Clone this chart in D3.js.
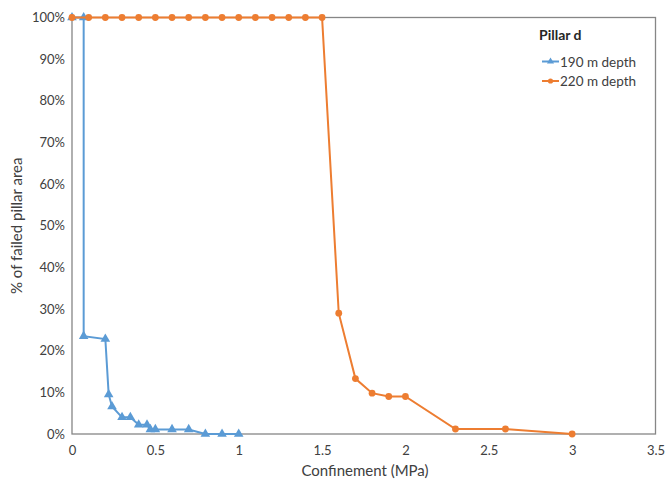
<!DOCTYPE html>
<html>
<head>
<meta charset="utf-8">
<script src="https://cdn.jsdelivr.net/npm/d3@7"></script>
<style>
  body { margin: 0; background: #fff; }
  svg { display: block; font-family: Lato, "Open Sans", sans-serif; }
</style>
</head>
<body>
<svg id="chart" width="665" height="481"></svg>
<script>
// Confinement (MPa) vs. failed pillar area (%), pillar d
const depth190X = [0, 0.07, 0.07, 0.2, 0.22, 0.24, 0.3, 0.35, 0.4, 0.45, 0.47, 0.5, 0.6, 0.7, 0.8, 0.9, 1.0];
const depth190Y = [100, 100, 23.5, 22.8, 9.5, 6.6, 4.0, 4.0, 2.2, 2.2, 1.1, 1.1, 1.1, 1.1, 0, 0, 0];

const depth220X = [0, 0.1, 0.2, 0.3, 0.4, 0.5, 0.6, 0.7, 0.8, 0.9, 1.0, 1.1, 1.2, 1.3, 1.4, 1.5,
                   1.6, 1.7, 1.8, 1.9, 2.0, 2.3, 2.6, 3.0];
const depth220Y = [100, 100, 100, 100, 100, 100, 100, 100, 100, 100, 100, 100, 100, 100, 100, 100,
                   29, 13.3, 9.8, 9.0, 9.0, 1.2, 1.2, 0];

const xTicks = [0, 0.5, 1, 1.5, 2, 2.5, 3, 3.5];
const yTicks = [0, 10, 20, 30, 40, 50, 60, 70, 80, 90, 100];
const seriesNames = ["190 m depth", "220 m depth"];
const legendTitle = "Pillar d";

const blue = "#5b9bd5", orange = "#ed7d31", textCol = "#404040", axisCol = "#868686";

const svg = d3.select("#chart");
const plotL = 72, plotR = 655.5, plotT = 17.5, plotB = 434;

const x = d3.scaleLinear().domain([0, 3.5]).range([plotL, plotR]);
const y = d3.scaleLinear().domain([0, 100]).range([plotB, plotT]);

// plot area frame
svg.append("rect")
  .attr("x", plotL).attr("y", plotT)
  .attr("width", plotR - plotL).attr("height", plotB - plotT)
  .attr("fill", "none").attr("stroke", axisCol).attr("stroke-width", 1.3);

// axes (labels only; frame draws the lines)
const xAxis = svg.append("g").attr("transform", `translate(0,${plotB})`)
  .call(d3.axisBottom(x).tickValues(xTicks).tickSize(0).tickPadding(12)
    .tickFormat(d => String(d)));
xAxis.select(".domain").remove();
xAxis.selectAll("text").attr("fill", textCol).style("font-size", "13px")
  .style("font-family", "Lato, 'Open Sans', sans-serif");

const yAxis = svg.append("g").attr("transform", `translate(${plotL},0)`)
  .call(d3.axisLeft(y).tickValues(yTicks).tickSize(0).tickPadding(7)
    .tickFormat(d => d + "%"));
yAxis.select(".domain").remove();
yAxis.selectAll("text").attr("fill", textCol).style("font-size", "13px")
  .style("font-family", "Lato, 'Open Sans', sans-serif");

// axis titles
svg.append("text")
  .attr("x", 365).attr("y", 476)
  .attr("text-anchor", "middle").attr("fill", textCol)
  .style("font-size", "15px")
  .text("Confinement (MPa)");

svg.append("text")
  .attr("transform", `translate(22,${(plotT + plotB) / 2}) rotate(-90)`)
  .attr("text-anchor", "middle").attr("fill", textCol)
  .style("font-size", "15px")
  .text("% of failed pillar area");

const line = d3.line().x(d => x(d[0])).y(d => y(d[1]));
const tri = d3.symbol().type(d3.symbolTriangle).size(40);

function drawSeries(xs, ys, color, marker) {
  const pts = xs.map((v, i) => [v, ys[i]]);
  const g = svg.append("g");
  g.append("path").datum(pts).attr("d", line)
    .attr("fill", "none").attr("stroke", color).attr("stroke-width", 2);
  if (marker === "tri") {
    g.selectAll("path.m").data(pts).enter().append("path").attr("class", "m")
      .attr("d", tri).attr("transform", d => `translate(${x(d[0])},${y(d[1])})`)
      .attr("fill", color);
  } else {
    g.selectAll("circle").data(pts).enter().append("circle")
      .attr("cx", d => x(d[0])).attr("cy", d => y(d[1])).attr("r", 3.4)
      .attr("fill", color);
  }
}

drawSeries(depth190X, depth190Y, blue, "tri");
drawSeries(depth220X, depth220Y, orange, "dot");

// legend
const lg = svg.append("g").attr("transform", "translate(539,0)");
lg.append("text").attr("x", 0).attr("y", 40)
  .attr("fill", "#262626").style("font-size", "14px").style("font-weight", "bold")
  .text(legendTitle);
[[blue, "tri"], [orange, "dot"]].forEach((s, i) => {
  const yy = 61.5 + i * 19.5;
  lg.append("line").attr("x1", 3).attr("x2", 20).attr("y1", yy).attr("y2", yy)
    .attr("stroke", s[0]).attr("stroke-width", 2);
  if (s[1] === "tri") {
    lg.append("path").attr("d", d3.symbol().type(d3.symbolTriangle).size(22))
      .attr("transform", `translate(11.5,${yy})`).attr("fill", s[0]);
  } else {
    lg.append("circle").attr("cx", 11.5).attr("cy", yy).attr("r", 2.6).attr("fill", s[0]);
  }
  lg.append("text").attr("x", 21).attr("y", yy + 5)
    .attr("fill", textCol).style("font-size", "13.5px").text(seriesNames[i]);
});
</script>
</body>
</html>
